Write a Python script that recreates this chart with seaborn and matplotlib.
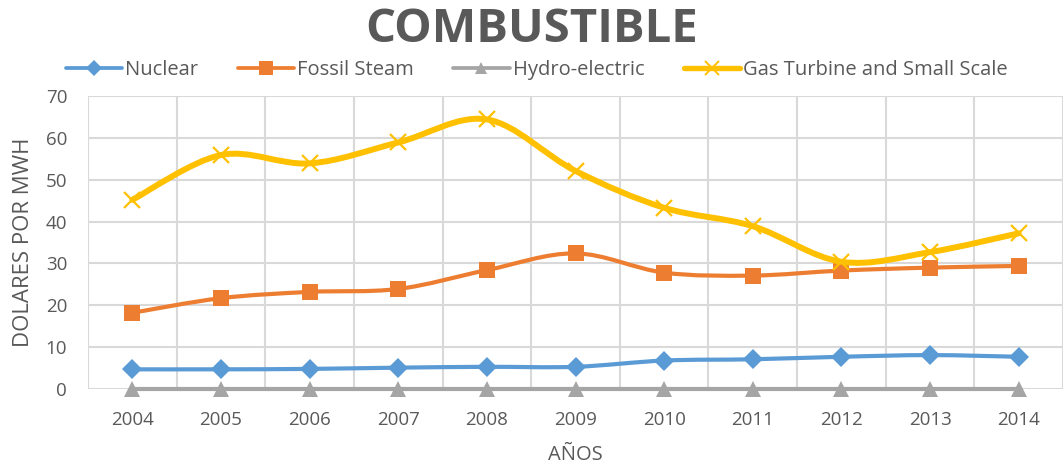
import numpy as np
import pandas as pd
import matplotlib
matplotlib.use("Agg")
import matplotlib.pyplot as plt
from matplotlib.path import Path
from matplotlib.patches import PathPatch
from matplotlib.lines import Line2D
import seaborn as sns

years = ["2004", "2005", "2006", "2007", "2008", "2009", "2010", "2011", "2012", "2013", "2014"]
nuclear = [4.7, 4.7, 4.8, 5.1, 5.3, 5.3, 6.8, 7.1, 7.7, 8.1, 7.7]
fossil = [18.2, 21.7, 23.2, 23.9, 28.4, 32.4, 27.8, 27.1, 28.3, 29.0, 29.4]
hydro = [0, 0, 0, 0, 0, 0, 0, 0, 0, 0, 0]
gas = [45.2, 55.9, 53.9, 58.9, 64.4, 52.1, 43.3, 38.9, 30.4, 32.7, 37.2]

series_names = ["Nuclear", "Fossil Steam", "Hydro-electric", "Gas Turbine and Small Scale"]
series_values = [nuclear, fossil, hydro, gas]
colors = ["#5B9BD5", "#ED7D31", "#A5A5A5", "#FFC000"]
markers = ["D", "s", "^", "x"]
msizes = [10.5, 12, 11, 12]
mew = [0, 0, 0, 1.6]
lws = [3.0, 3.0, 3.0, 4.3]

title = "COMBUSTIBLE"
xlabel = "AÑOS"
ylabel = "DOLARES POR MWH"

sns.set_style("white")
plt.rcParams["font.family"] = ["Open Sans", "DejaVu Sans"]

df = pd.DataFrame({
    "x": np.tile(np.arange(len(years)), len(series_names)),
    "value": np.concatenate(series_values),
    "series": np.repeat(series_names, len(years)),
})

fig = plt.figure(figsize=(10.63, 4.65), dpi=100)
ax = fig.add_axes([88 / 1063, 1 - 389 / 465, 1 - 88 / 1063, 293 / 465])


def smooth_path(xs, ys):
    pts = np.column_stack([xs, ys]).astype(float)
    n = len(pts)
    verts = [pts[0]]
    codes = [Path.MOVETO]
    for i in range(n - 1):
        p0 = pts[i - 1] if i > 0 else pts[i]
        p1 = pts[i]
        p2 = pts[i + 1]
        p3 = pts[i + 2] if i + 2 < n else pts[i + 1]
        c1 = p1 + (p2 - p0) / 6.0
        c2 = p2 - (p3 - p1) / 6.0
        verts += [c1, c2, p2]
        codes += [Path.CURVE4] * 3
    return Path(verts, codes)


order = [2, 0, 1, 3]
for k in order:
    name = series_names[k]
    sub = df[df.series == name]
    patch = PathPatch(smooth_path(sub.x.values, sub.value.values), fill=False,
                      edgecolor=colors[k], lw=lws[k], capstyle="round",
                      joinstyle="round", zorder=3 + k, clip_on=False)
    ax.add_patch(patch)
    sns.lineplot(data=sub, x="x", y="value", ax=ax, color=colors[k], lw=0,
                 marker=markers[k], markersize=msizes[k], markeredgewidth=mew[k],
                 markeredgecolor=colors[k], zorder=4 + k, clip_on=False, legend=False)

ax.set_xlim(-0.5, len(years) - 0.5)
ax.set_ylim(0, 70)
ax.set_yticks(np.arange(0, 71, 10))
ax.set_xticks(np.arange(len(years)))
ax.set_xticklabels(years)
ax.set_xticks(np.arange(-0.5, len(years), 1), minor=True)
ax.grid(True, which="major", axis="y", color="#D9D9D9", lw=1.5)
ax.grid(True, which="minor", axis="x", color="#D9D9D9", lw=1.5)
ax.grid(False, which="major", axis="x")
ax.tick_params(axis="both", which="both", length=0)
ax.tick_params(axis="y", labelsize=13.5, labelcolor="#595959", pad=15)
ax.tick_params(axis="x", labelsize=13.5, labelcolor="#595959", pad=16)
for s in ax.spines.values():
    s.set_visible(False)
ax.set_xlabel(xlabel, fontsize=14.5, color="#595959", labelpad=11)
ax.set_ylabel(ylabel, fontsize=16, color="#595959")
ax.yaxis.set_label_coords(-0.055, 0.5)

fig.text(0.5, 1 - 29 / 465, title, ha="center", va="center", fontsize=34,
         fontweight="bold", color="#595959")

handles = [Line2D([0], [0], color=colors[k], lw=lws[k] * 0.9, marker=markers[k],
                  markersize=msizes[k] * 0.8, markeredgewidth=mew[k] * 0.9,
                  markeredgecolor=colors[k]) for k in range(4)]
fig.legend(handles, series_names, loc="center", bbox_to_anchor=(0.505, 1 - 70 / 465),
           ncol=4, frameon=False, fontsize=14.5, handlelength=2.8, columnspacing=1.95,
           handletextpad=0.15, labelcolor="#595959")

fig.savefig("out.png", dpi=100)
